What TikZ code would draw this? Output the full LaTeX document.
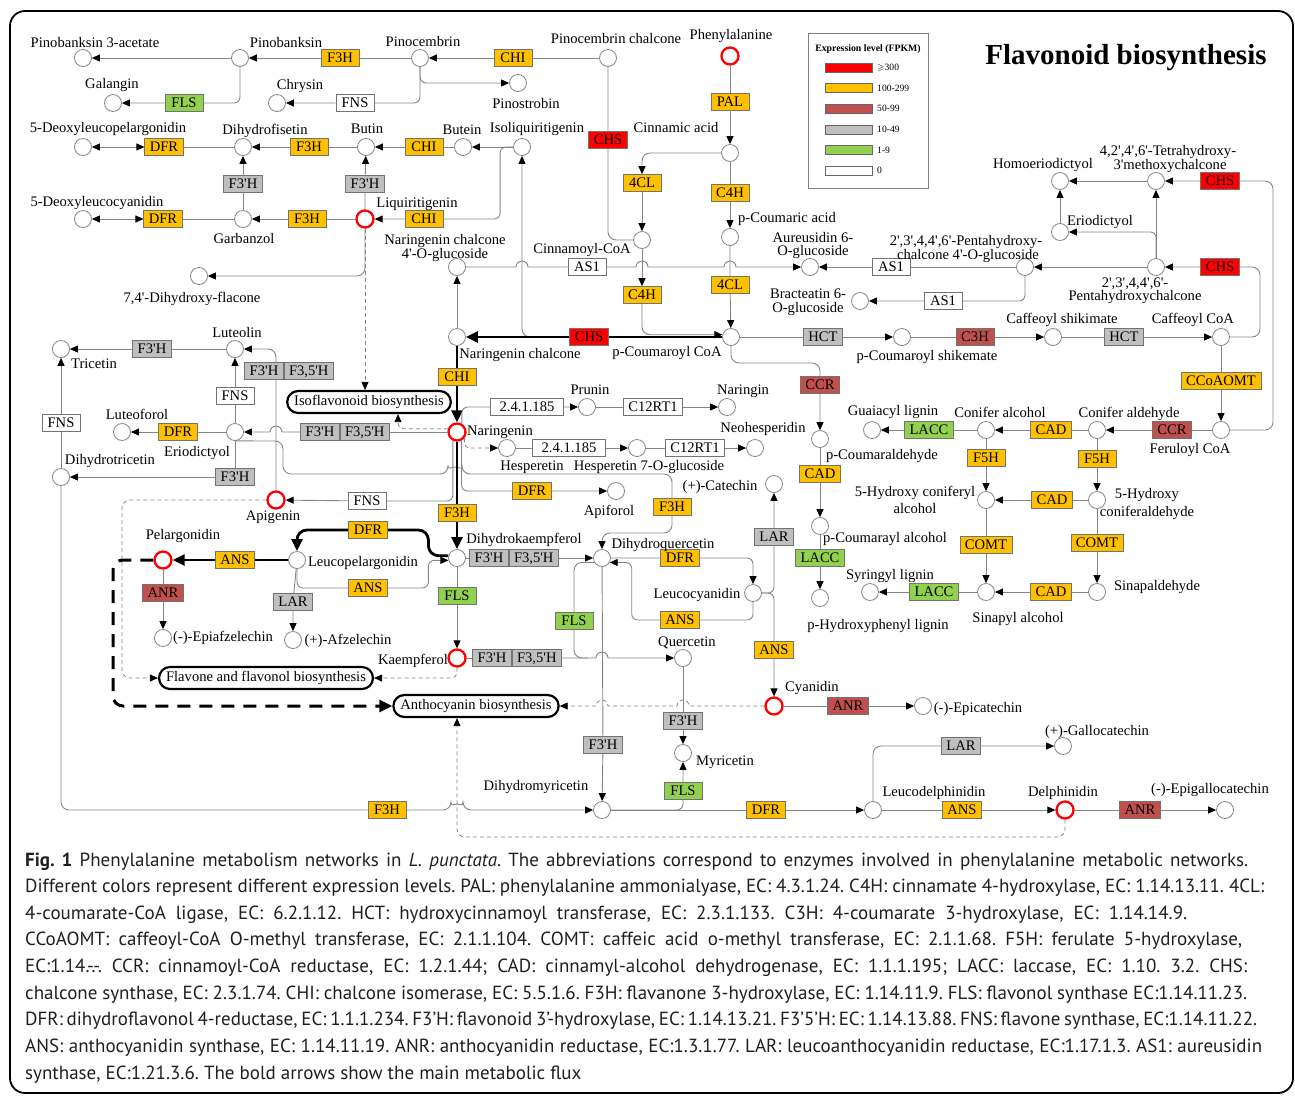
\documentclass[tikz,border=0pt]{standalone}
\usepackage{fontspec}
\usepackage{amssymb}
\newfontfamily\labfont{Liberation Serif}
\newfontfamily\capfont{PT Sans}
\usetikzlibrary{arrows.meta,positioning,backgrounds}
\definecolor{hiexp}{HTML}{FF0000}
\definecolor{midexp}{HTML}{FFC000}
\definecolor{loexp}{HTML}{C0504D}
\definecolor{grexp}{HTML}{BFBFBF}
\definecolor{flexp}{HTML}{92D050}
\definecolor{linkc}{HTML}{858585}
\begin{document}
\begin{tikzpicture}[x=1pt,y=-1pt,
	every node/.style={font=\labfont\fontsize{14.6}{16}\selectfont},
	met/.style={circle,draw=linkc,line width=0.8pt,fill=white,minimum size=17pt,inner sep=0pt},
	hub/.style={met,draw=red,line width=2.3pt},
	enz/.style={rectangle,draw=black!55,line width=0.7pt,minimum width=38pt,minimum height=17pt,
		inner xsep=5pt,inner ysep=0pt,text height=9.5pt,text depth=0pt},
	ez0/.style={enz,fill=white},
	ez1/.style={enz,fill=flexp},
	ez2/.style={enz,fill=grexp},
	ez3/.style={enz,fill=loexp},
	ez4/.style={enz,fill=midexp},
	ez5/.style={enz,fill=hiexp},
	pwy/.style={draw=black,line width=2.2pt,rounded corners=11pt,fill=white,inner xsep=7pt,
		minimum height=22pt,text height=10pt,text depth=3pt},
	lbl/.style={inner sep=0pt,anchor=base},
	capline/.style={anchor=mid west,inner sep=0pt,font=\capfont\fontsize{19}{22}\selectfont\frenchspacing,text=black!88},
	link/.style={draw=linkc,line width=0.9pt,>={Triangle[length=8pt,width=7pt,color=black]}},
	dlink/.style={link,line width=0.8pt,dash pattern=on 4pt off 3pt},
	flux/.style={draw=black,line width=2.8pt,>={Triangle[length=12pt,width=11pt]}},
	bigdash/.style={draw=black,line width=3pt,dash pattern=on 13pt off 9pt,>={Triangle[length=13pt,width=12pt]}}
	]
	\useasboundingbox (0,0) rectangle (1295,1096);
	\draw[line width=1.8pt,rounded corners=15pt] (10,11) rectangle (1293,1093);
	
	% metabolites
	\node[met] (pbk3a) at (83,58) {};
	\node[met] (pbk) at (240,58) {};
	\node[met] (pcb) at (420,58) {};
	\node[met] (pcbchal) at (608,58) {};
	\node[hub] (phe) at (730,56) {};
	\node[met] (gal) at (113,103) {};
	\node[met] (chr) at (277,103) {};
	\node[met] (pst) at (518,83) {};
	\node[met] (dlp) at (83,147) {};
	\node[met] (dhf) at (243,147) {};
	\node[met] (butin) at (366,147) {};
	\node[met] (butein) at (463,147) {};
	\node[met] (isoliq) at (522,147) {};
	\node[met] (cin) at (730,153) {};
	\node[met] (hed) at (1060,181) {};
	\node[met] (thmc) at (1156,181) {};
	\node[met] (dlc) at (83,219) {};
	\node[met] (garb) at (243,219) {};
	\node[hub] (liq) at (365,219) {};
	\node[met] (cincoa) at (642,240) {};
	\node[met] (pca) at (730,237) {};
	\node[met] (eriob) at (1060,232) {};
	\node[met] (ncg) at (457,267) {};
	\node[met] (aur) at (810,267) {};
	\node[met] (phcg) at (1025,267) {};
	\node[met] (phc) at (1156,267) {};
	\node[met] (dhfl) at (199,276) {};
	\node[met] (bra) at (860,301) {};
	\node[met] (nc) at (457,337) {};
	\node[met] (pcoa) at (731,337) {};
	\node[met] (pcs) at (902,337) {};
	\node[met] (cafs) at (1053,337) {};
	\node[met] (cafcoa) at (1221,337) {};
	\node[met] (tri) at (61,349) {};
	\node[met] (lut) at (235,349) {};
	\node[met] (pru) at (587,407) {};
	\node[met] (nrg) at (727,407) {};
	\node[met] (lfo) at (122,432) {};
	\node[met] (erio) at (235,432) {};
	\node[hub] (nar) at (457,432) {};
	\node[met] (pcald) at (820,439) {};
	\node[met] (gua) at (872,430) {};
	\node[met] (calc) at (986,430) {};
	\node[met] (cald) at (1097,430) {};
	\node[met] (fcoa) at (1221,430) {};
	\node[met] (hes) at (507,448) {};
	\node[met] (hes7) at (637,448) {};
	\node[met] (neo) at (755,448) {};
	\node[met] (dht) at (61,477) {};
	\node[met] (cat) at (774,484) {};
	\node[met] (api) at (616,491) {};
	\node[hub] (apg) at (276,500) {};
	\node[met] (hcalc) at (986,500) {};
	\node[met] (hcald) at (1097,500) {};
	\node[met] (pcalc) at (820,526) {};
	\node[met] (dhk) at (457,558) {};
	\node[met] (dhq) at (602,558) {};
	\node[hub] (pel) at (163,560) {};
	\node[met] (lpel) at (297,560) {};
	\node[met] (syr) at (870,592) {};
	\node[met] (salc) at (986,592) {};
	\node[met] (sald) at (1097,592) {};
	\node[met] (lcy) at (753,593) {};
	\node[met] (phl) at (820,598) {};
	\node[met] (epa) at (163,638) {};
	\node[met] (afz) at (293,640) {};
	\node[hub] (kae) at (457,658) {};
	\node[met] (que) at (683,658) {};
	\node[hub] (cya) at (774,706) {};
	\node[met] (epc) at (923,706) {};
	\node[met] (myr) at (683,753) {};
	\node[met] (gca) at (1063,746) {};
	\node[met] (dhm) at (602,810) {};
	\node[met] (ldp) at (873,810) {};
	\node[hub] (del) at (1065,810) {};
	\node[met] (egc) at (1225,810) {};
	
	% enzymes
	\node[ez4] (f3h1) at (340,58) {F3H};
	\node[ez4] (chi1) at (513,58) {CHI};
	\node[ez1] (fls1) at (184,103) {FLS};
	\node[ez0] (fns1) at (355,103) {FNS};
	\node[ez4] (dfr1) at (164,147) {DFR};
	\node[ez4] (f3h2) at (309,147) {F3H};
	\node[ez4] (chi2) at (424,147) {CHI};
	\node[ez5] (chs1) at (608,140) {CHS};
	\node[ez4] (pal) at (730,102) {PAL};
	\node[ez2] (f3p1) at (243,184) {F3'H};
	\node[ez2] (f3p2) at (365,184) {F3'H};
	\node[ez4] (cl1) at (642,183) {4CL};
	\node[ez4] (c4h1) at (730,193) {C4H};
	\node[ez4] (dfr2) at (163,219) {DFR};
	\node[ez4] (f3h3) at (307,219) {F3H};
	\node[ez4] (chi3) at (424,219) {CHI};
	\node[ez0] (as1) at (587,267) {AS1};
	\node[ez0] (as2) at (891,267) {AS1};
	\node[ez0] (as3) at (943,301) {AS1};
	\node[ez4] (c4h2) at (642,295) {C4H};
	\node[ez4] (cl2) at (730,285) {4CL};
	\node[ez5] (chs2) at (1220,181) {CHS};
	\node[ez5] (chs3) at (1220,267) {CHS};
	\node[ez5] (chs4) at (589,337) {CHS};
	\node[ez2] (hct1) at (823,337) {HCT};
	\node[ez3] (c3h) at (975,337) {C3H};
	\node[ez2] (hct2) at (1124,337) {HCT};
	\node[ez2] (f3p3) at (152,349) {F3'H};
	\node[ez2] (f3p4) at (264,371) {F3'H};
	\node[ez2,right=0pt of f3p4] (f35h1) {F3,5'H};
	\node[ez0] (fns2) at (235,396) {FNS};
	\node[ez4] (chi4) at (457,377) {CHI};
	\node[ez3] (ccr1) at (820,385) {CCR};
	\node[ez4] (ccoa) at (1221,381) {CCoAOMT};
	\node[ez0,minimum width=73pt] (gt1) at (527,407) {2.4.1.185};
	\node[ez0] (rt1) at (653,407) {C12RT1};
	\node[ez0] (fns3) at (61,423) {FNS};
	\node[ez4] (dfr3) at (178,432) {DFR};
	\node[ez2] (f3p5) at (320,432) {F3'H};
	\node[ez2,right=0pt of f3p5] (f35h2) {F3,5'H};
	\node[ez1] (lac1) at (929,430) {LACC};
	\node[ez4] (cad1) at (1051,430) {CAD};
	\node[ez3] (ccr2) at (1172,430) {CCR};
	\node[ez0,minimum width=73pt] (gt2) at (569,448) {2.4.1.185};
	\node[ez0] (rt2) at (695,448) {C12RT1};
	\node[ez4] (f5h1) at (986,458) {F5H};
	\node[ez4] (f5h2) at (1097,459) {F5H};
	\node[ez4] (cad2) at (820,474) {CAD};
	\node[ez2] (f3p6) at (235,477) {F3'H};
	\node[ez4] (dfr4) at (532,491) {DFR};
	\node[ez0] (fns4) at (367,501) {FNS};
	\node[ez4] (cad3) at (1052,500) {CAD};
	\node[ez4] (f3h4) at (672,507) {F3H};
	\node[ez4] (f3h5) at (457,513) {F3H};
	\node[ez4] (dfr5) at (368,530) {DFR};
	\node[ez2] (lar1) at (774,537) {LAR};
	\node[ez4] (comt1) at (986,545) {COMT};
	\node[ez4] (comt2) at (1097,543) {COMT};
	\node[ez2] (f3p7) at (489,558) {F3'H};
	\node[ez2,right=0pt of f3p7] (f35h3) {F3,5'H};
	\node[ez4] (dfr6) at (680,558) {DFR};
	\node[ez1] (lac2) at (820,558) {LACC};
	\node[ez4] (ans1) at (235,560) {ANS};
	\node[ez4] (ans2) at (368,588) {ANS};
	\node[ez4] (cad4) at (1051,592) {CAD};
	\node[ez1] (lac3) at (934,592) {LACC};
	\node[ez1] (fls2) at (457,596) {FLS};
	\node[ez3] (anr1) at (163,593) {ANR};
	\node[ez2] (lar2) at (293,602) {LAR};
	\node[ez1] (fls3) at (574,621) {FLS};
	\node[ez4] (ans3) at (680,620) {ANS};
	\node[ez4] (ans4) at (774,650) {ANS};
	\node[ez2] (f3p8) at (492,658) {F3'H};
	\node[ez2,right=0pt of f3p8] (f35h4) {F3,5'H};
	\node[ez3] (anr2) at (848,706) {ANR};
	\node[ez2] (f3p9) at (683,721) {F3'H};
	\node[ez2] (f3p10) at (603,745) {F3'H};
	\node[ez2] (lar3) at (961,746) {LAR};
	\node[ez1] (fls4) at (683,791) {FLS};
	\node[ez4] (f3h6) at (387,810) {F3H};
	\node[ez4] (dfr7) at (766,810) {DFR};
	\node[ez4] (ans5) at (962,810) {ANS};
	\node[ez3] (anr3) at (1140,810) {ANR};
	
	% linked maps
	\node[pwy] (iso) at (369,402) {Isoflavonoid biosynthesis};
	\node[pwy] (flv) at (266,678) {Flavone and flavonol biosynthesis};
	\node[pwy] (ant) at (476,706) {Anthocyanin biosynthesis};
	
	% compound names
	\node[lbl] (tpbk3a) at (95,47) {Pinobanksin 3-acetate};
	\node[lbl] (tpbk) at (286,47) {Pinobanksin};
	\node[lbl] (tpcb) at (423,46) {Pinocembrin};
	\node[lbl] (tpcbchal) at (616,43) {Pinocembrin chalcone};
	\node[lbl] (tphe) at (731,39) {Phenylalanine};
	\node[lbl] (tgal) at (112,88) {Galangin};
	\node[lbl] (tchr) at (300,89) {Chrysin};
	\node[lbl] (tpst) at (526,108) {Pinostrobin};
	\node[lbl] (tdlp) at (108,132) {5-Deoxyleucopelargonidin};
	\node[lbl] (tdhf) at (265,134) {Dihydrofisetin};
	\node[lbl] (tbutin) at (367,133) {Butin};
	\node[lbl] (tbutein) at (462,134) {Butein};
	\node[lbl] (tisoliq) at (537,132) {Isoliquiritigenin};
	\node[lbl] (tcin) at (676,132) {Cinnamic acid};
	\node[lbl] (tdlc) at (97,206) {5-Deoxyleucocyanidin};
	\node[lbl] (tliq) at (417,207) {Liquiritigenin};
	\node[lbl] (tgarb) at (244,243) {Garbanzol};
	\node[lbl] (tncg1) at (445,244) {Naringenin chalcone};
	\node[lbl] (tncg2) at (445,258) {4'-O-glucoside};
	\node[lbl] (tcincoa) at (582,253) {Cinnamoyl-CoA};
	\node[lbl] (tpca) at (787,222) {p-Coumaric acid};
	\node[lbl] (taur1) at (813,242) {Aureusidin 6-};
	\node[lbl] (taur2) at (813,255) {O-glucoside};
	\node[lbl] (tphcg1) at (966,245) {2',3',4,4',6'-Pentahydroxy-};
	\node[lbl] (tphcg2) at (968,259) {chalcone 4'-O-glucoside};
	\node[lbl] (thed) at (1043,168) {Homoeriodictyol};
	\node[lbl] (tthmc1) at (1168,155) {4,2',4',6'-Tetrahydroxy-};
	\node[lbl] (tthmc2) at (1170,169) {3'methoxychalcone};
	\node[lbl] (teriob) at (1100,225) {Eriodictyol};
	\node[lbl] (tphc1) at (1135,287) {2',3',4,4',6'-};
	\node[lbl] (tphc2) at (1135,300) {Pentahydroxychalcone};
	\node[lbl] (tbra1) at (808,298) {Bracteatin 6-};
	\node[lbl] (tbra2) at (808,312) {O-glucoside};
	\node[lbl] (tdhfl) at (192,302) {7,4'-Dihydroxy-flacone};
	\node[lbl] (tlut) at (237,337) {Luteolin};
	\node[lbl] (ttri) at (94,368) {Tricetin};
	\node[lbl] (tnc) at (520,358) {Naringenin chalcone};
	\node[lbl] (tpcoa) at (667,356) {p-Coumaroyl CoA};
	\node[lbl] (tpcs) at (927,360) {p-Coumaroyl shikemate};
	\node[lbl] (tcafs) at (1062,323) {Caffeoyl shikimate};
	\node[lbl] (tcafcoa) at (1193,323) {Caffeoyl CoA};
	\node[lbl] (tpru) at (590,394) {Prunin};
	\node[lbl] (tnrg) at (743,394) {Naringin};
	\node[lbl] (tlfo) at (137,419) {Luteoforol};
	\node[lbl] (terio) at (197,456) {Eriodictyol};
	\node[lbl] (tnar) at (500,435) {Naringenin};
	\node[lbl] (thes) at (532,470) {Hesperetin};
	\node[lbl] (thes7) at (649,470) {Hesperetin 7-O-glucoside};
	\node[lbl] (tneo) at (763,432) {Neohesperidin};
	\node[lbl] (tgua) at (893,415) {Guaiacyl lignin};
	\node[lbl] (tcalc) at (1000,417) {Conifer alcohol};
	\node[lbl] (tcald) at (1129,417) {Conifer aldehyde};
	\node[lbl] (tfcoa) at (1190,453) {Feruloyl CoA};
	\node[lbl] (tpcald) at (882,459) {p-Coumaraldehyde};
	\node[lbl] (tdht) at (110,464) {Dihydrotricetin};
	\node[lbl] (tcat) at (720,490) {(+)-Catechin};
	\node[lbl] (thcalc1) at (915,496) {5-Hydroxy coniferyl};
	\node[lbl] (thcalc2) at (915,513) {alcohol};
	\node[lbl] (thcald1) at (1147,498) {5-Hydroxy};
	\node[lbl] (thcald2) at (1147,516) {coniferaldehyde};
	\node[lbl] (tapi) at (609,515) {Apiforol};
	\node[lbl] (tapg) at (273,520) {Apigenin};
	\node[lbl] (tpel) at (183,539) {Pelargonidin};
	\node[lbl] (tdhk) at (524,543) {Dihydrokaempferol};
	\node[lbl] (tdhq) at (663,548) {Dihydroquercetin};
	\node[lbl] (tpcalc) at (885,542) {p-Coumarayl alcohol};
	\node[lbl] (tlpel) at (363,566) {Leucopelargonidin};
	\node[lbl] (tsyr) at (890,579) {Syringyl lignin};
	\node[lbl] (tsald) at (1157,590) {Sinapaldehyde};
	\node[lbl] (tlcy) at (697,598) {Leucocyanidin};
	\node[lbl] (tsalc) at (1018,622) {Sinapyl alcohol};
	\node[lbl] (tphl) at (878,629) {p-Hydroxyphenyl lignin};
	\node[lbl] (tepa) at (223,641) {(-)-Epiafzelechin};
	\node[lbl] (tafz) at (348,644) {(+)-Afzelechin};
	\node[lbl] (tque) at (687,646) {Quercetin};
	\node[lbl] (tkae) at (413,664) {Kaempferol};
	\node[lbl] (tcya) at (812,691) {Cyanidin};
	\node[lbl] (tepc) at (978,712) {(-)-Epicatechin};
	\node[lbl] (tgca) at (1097,735) {(+)-Gallocatechin};
	\node[lbl] (tmyr) at (725,765) {Myricetin};
	\node[lbl] (tdhm) at (536,790) {Dihydromyricetin};
	\node[lbl] (tldp) at (934,796) {Leucodelphinidin};
	\node[lbl] (tdel) at (1063,796) {Delphinidin};
	\node[lbl] (tegc) at (1210,793) {(-)-Epigallocatechin};
	
	% legend and title
	\node[draw=black!50,line width=0.8pt,minimum width=120pt,minimum height=155pt] (leg) at (868,111) {};
	\node[font=\labfont\bfseries\fontsize{9.8}{11}\selectfont] (legt) at (868,49) {Expression level (FPKM)};
	\foreach \c/\t [count=\i] in {hiexp/{$\geqslant$300},midexp/100-299,loexp/50-99,grexp/10-49,flexp/1-9,white/0}{
		\node[draw=black!60,fill=\c,minimum width=47pt,minimum height=9pt,inner sep=0pt] (sw\i) at (848.5,46.9+20.6*\i) {};
		\node[anchor=west,inner sep=0pt,font=\labfont\fontsize{9.6}{11}\selectfont] (swl\i) at (877,46.9+20.6*\i) {\t};
	}
	\node[font=\labfont\bfseries\fontsize{29}{32}\selectfont] (ttl) at (1126,58) {Flavonoid biosynthesis};
	
	% caption
	\node[capline] (cap1) at (25,864) {\makebox[1223pt][s]{\textbf{Fig. 1} Phenylalanine metabolism networks in \textit{L. punctata}. The abbreviations correspond to enzymes involved in phenylalanine metabolic networks.}};
	\node[capline] (cap2) at (25,890) {\makebox[1239pt][s]{Different colors represent different expression levels. PAL: phenylalanine ammonialyase, EC: 4.3.1.24. C4H: cinnamate 4-hydroxylase, EC: 1.14.13.11. 4CL:}};
	\node[capline] (cap3) at (25,917) {\makebox[1162pt][s]{4-coumarate-CoA ligase, EC: 6.2.1.12. HCT: hydroxycinnamoyl transferase, EC: 2.3.1.133. C3H: 4-coumarate 3-hydroxylase, EC: 1.14.14.9.}};
	\node[capline] (cap4) at (25,943) {\makebox[1217pt][s]{CCoAOMT: caffeoyl-CoA O-methyl transferase, EC: 2.1.1.104. COMT: caffeic acid o-methyl transferase, EC: 2.1.1.68. F5H: ferulate 5-hydroxylase,}};
	\node[capline] (cap5) at (25,970) {\makebox[1222pt][s]{EC:1.14.-.-. CCR: cinnamoyl-CoA reductase, EC: 1.2.1.44; CAD: cinnamyl-alcohol dehydrogenase, EC: 1.1.1.195; LACC: laccase, EC: 1.10. 3.2. CHS:}};
	\node[capline] (cap6) at (25,997) {\makebox[1222pt][s]{chalcone synthase, EC: 2.3.1.74. CHI: chalcone isomerase, EC: 5.5.1.6. F3H: flavanone 3-hydroxylase, EC: 1.14.11.9. FLS: flavonol synthase EC:1.14.11.23.}};
	\node[capline] (cap7) at (25,1023) {\makebox[1232pt][s]{DFR: dihydroflavonol 4-reductase, EC: 1.1.1.234. F3’H: flavonoid 3’-hydroxylase, EC: 1.14.13.21. F3’5’H: EC: 1.14.13.88. FNS: flavone synthase, EC:1.14.11.22.}};
	\node[capline] (cap8) at (25,1050) {\makebox[1237pt][s]{ANS: anthocyanidin synthase, EC: 1.14.11.19. ANR: anthocyanidin reductase, EC:1.3.1.77. LAR: leucoanthocyanidin reductase, EC:1.17.1.3. AS1: aureusidin}};
	\node[capline] (cap9) at (25,1077) {synthase, EC:1.21.3.6. The bold arrows show the main metabolic flux};
	
	\begin{scope}[on background layer]
		% upper part
		\draw[link,->] (pbk) -- (pbk3a);
		\draw[link,->] (pcb) -- (f3h1) -- (pbk);
		\draw[link,->] (pcbchal) -- (chi1) -- (pcb);
		\draw[link,->,rounded corners=6pt] (pbk) |- (fls1) -- (gal);
		\draw[link,->,rounded corners=6pt] (pcb) |- (fns1) -- (chr);
		\draw[link,->,rounded corners=6pt] (pcb) |- (pst);
		\draw[link,rounded corners=8pt] (pcbchal) -- (chs1) |- (cincoa);
		\draw[link,->] (phe) -- (pal) -- (cin);
		\draw[link,->,rounded corners=8pt] (cin) -| (cl1);
		\draw[link,->] (cl1) -- (cincoa);
		\draw[link,->] (cin) -- (c4h1) -- (pca);
		\draw[link,->] (pca) -- (cl2) -- (pcoa);
		\draw[link,->] (cincoa) -- (c4h2);
		\draw[link,->,rounded corners=8pt] (c4h2) |- (pcoa.165);
		\draw[link,->] (ncg) -- (516,267) arc[start angle=180,end angle=0,radius=6pt] -- (as1) -- (636,267)
			arc[start angle=180,end angle=0,radius=6pt] -- (724,267) arc[start angle=180,end angle=0,radius=6pt] -- (aur);
		\draw[link,->] (phcg) -- (as2) -- (aur);
		\draw[link,->,rounded corners=6pt] (phcg) |- (as3) -- (bra);
		\draw[link,->] (phc) -- (phcg);
		\draw[link,->,rounded corners=8pt] (cafcoa) -- ++(39,0) |- (chs3) -- (phc);
		\draw[link,->,rounded corners=8pt] (fcoa) -- ++(52,0) |- (chs2) -- (thmc);
		\draw[link,->] (thmc) -- (hed);
		\draw[link,->] (eriob) -- (hed);
		\draw[link,->] (phc) -- (thmc);
		\draw[link,->,rounded corners=5pt] (phc.north) |- (eriob);
		\draw[link,<->] (dhf) -- (dfr1) -- (dlp);
		\draw[link,->] (butin) -- (f3h2) -- (dhf);
		\draw[link,->] (butein) -- (chi2) -- (butin);
		\draw[link,->] (isoliq) -- (butein);
		\draw[link,->,rounded corners=6pt] (isoliq.west) -- ++(-13,0) |- (chi3) -- (liq);
		\draw[link,->] (liq) -- (f3p2) -- (butin);
		\draw[link,->] (liq) -- (f3h3) -- (garb);
		\draw[link,->] (garb) -- (f3p1) -- (dhf);
		\draw[link,<->] (garb) -- (dfr2) -- (dlc);
		\draw[link,->,rounded corners=8pt] (liq) |- (dhfl);
		\draw[dlink,->] (liq) -- (liq |- iso.north);
		\draw[link,->,rounded corners=8pt] (chs4) -| (isoliq);
		\draw[link,->] (nc) -- (ncg);
		\draw[flux,->] (pcoa) -- (chs4) -- (nc);
		\draw[flux,->] (nc) -- (chi4) -- (nar);
		% lignin branch
		\draw[link,->] (pcoa) -- (hct1) -- (pcs);
		\draw[link,->] (pcs) -- (c3h) -- (cafs);
		\draw[link,->] (cafs) -- (hct2) -- (cafcoa);
		\draw[link,->] (cafcoa) -- (ccoa) -- (fcoa);
		\draw[link,->] (fcoa) -- (ccr2) -- (cald);
		\draw[link,->] (cald) -- (cad1) -- (calc);
		\draw[link,->] (calc) -- (lac1) -- (gua);
		\draw[link,->] (calc) -- (f5h1) -- (hcalc);
		\draw[link,->] (cald) -- (f5h2) -- (hcald);
		\draw[link,->] (hcald) -- (cad3) -- (hcalc);
		\draw[link,->] (hcalc) -- (comt1) -- (salc);
		\draw[link,->] (hcald) -- (comt2) -- (sald);
		\draw[link,->] (sald) -- (cad4) -- (salc);
		\draw[link,->] (salc) -- (lac3) -- (syr);
		\draw[link,->,rounded corners=8pt] (pcoa) -- ++(0,26) -| (ccr1) -- (pcald);
		\draw[link,->] (pcald) -- (cad2) -- (pcalc);
		\draw[link,->] (pcalc) -- (lac2) -- (phl);
		% naringenin and below
		\draw[link,->,rounded corners=6pt] (nar.60) |- (gt1) -- (pru);
		\draw[link,->] (pru) -- (rt1) -- (nrg);
		\draw[dlink,->,rounded corners=5pt] (nar.-40) |- (hes);
		\draw[link,->] (hes) -- (gt2) -- (hes7);
		\draw[link,->] (hes7) -- (rt2) -- (neo);
		\draw[link] (nar) -- (f35h2);
		\draw[link,->] (f3p5) -- (282,432) arc[start angle=0,end angle=180,radius=6pt] -- (erio);
		\draw[dlink,->,rounded corners=6pt] (nar.160) -| ([xshift=29pt]iso.south);
		\draw[link,->] (erio) -- (dfr3) -- (lfo);
		\draw[link,->] (erio) -- (fns2) -- (lut);
		\draw[link,->] (lut) -- (f3p3) -- (tri);
		\draw[link,->,rounded corners=8pt] (apg) |- (lut);
		\draw[link,->] (erio) -- (f3p6) -- (dht);
		\draw[link,->] (dht) -- (fns3) -- (tri);
		\draw[link,->,rounded corners=8pt] (dht) |- (f3h6) -- (451,810) arc[start angle=180,end angle=0,radius=6pt] -- (dhm);
		\draw[link,->,rounded corners=8pt] (erio.south) -- (283,441) -- (283,474) -- (448,474)
			arc[start angle=180,end angle=0,radius=7pt] -- (672,474) -- (f3h4) -- (672,533) -- (602,533) -- (dhq);
		\draw[link,->,rounded corners=6pt] (nar.-115) |- (fns4) -- (apg);
		\draw[link,->,rounded corners=6pt] (nar.-62) |- (dfr4) -- (api);
		\draw[flux,->] (nar) -- (f3h5) -- (dhk);
		\draw[dlink,->,rounded corners=8pt] (apg) -- ++(-154,0) |- (flv);
		\draw[link] (dhk) -- (f3p7);
		\draw[link,->] (f35h3) -- (dhq);
		\draw[flux,->,rounded corners=10pt] (dhk.165) -- ++(-20,0) |- (dfr5) -| (lpel);
		\draw[link,->,rounded corners=6pt] (lpel) |- (ans2) -| ([xshift=-20pt]dhk.-165) -- (dhk.-165);
		\draw[flux,->] (lpel) -- (ans1) -- (pel);
		\draw[link,->] (pel) -- (anr1) -- (epa);
		\draw[link,->] (lpel) -- (lar2) -- (afz);
		\draw[link,->] (dhk) -- (fls2) -- (kae);
		\draw[link] (kae) -- (f3p8);
		\draw[link,->] (f35h4) -- (596,658) arc[start angle=180,end angle=0,radius=6pt] -- (que);
		\draw[link,rounded corners=8pt] (dhq.-150) -| (fls3) |- (588,658);
		\draw[link,->,rounded corners=6pt] (dhq) -- (dfr6) -| (lcy);
		\draw[link,->,rounded corners=6pt] (lcy) |- (ans3) -| ([xshift=22pt]dhq.-30) -- (dhq.-30);
		\draw[link,->,rounded corners=6pt] (lcy) -| (lar1) -- (cat);
		\draw[link,->,rounded corners=6pt] (lcy) -| (ans4) -- (cya);
		\draw[link,->] (cya) -- (anr2) -- (epc);
		\draw[dlink,->] (cya) -- (689,706) arc[start angle=0,end angle=180,radius=6pt] -- (608,706)
			arc[start angle=0,end angle=180,radius=6pt] -- (ant);
		\draw[link,->] (que) -- (f3p9) -- (myr);
		\draw[link,->] (dhq) -- (f3p10) -- (dhm);
		\draw[link,->,rounded corners=6pt] (dhm) -| (fls4) -- (myr);
		\draw[link,->] (dhm) -- (dfr7) -- (ldp);
		\draw[link,->,rounded corners=8pt] (ldp) |- (lar3) -- (gca);
		\draw[link,->] (ldp) -- (ans5) -- (del);
		\draw[link,->] (del) -- (anr3) -- (egc);
		\draw[dlink,->,rounded corners=8pt] (del) -- ++(0,27) -| ([xshift=-19pt]ant.south);
		\draw[dlink,->,rounded corners=6pt] (kae) |- (flv);
		\draw[bigdash,->,rounded corners=10pt] (pel) -- ++(-50,0) |- (ant);
	\end{scope}
\end{tikzpicture}
\end{document}
